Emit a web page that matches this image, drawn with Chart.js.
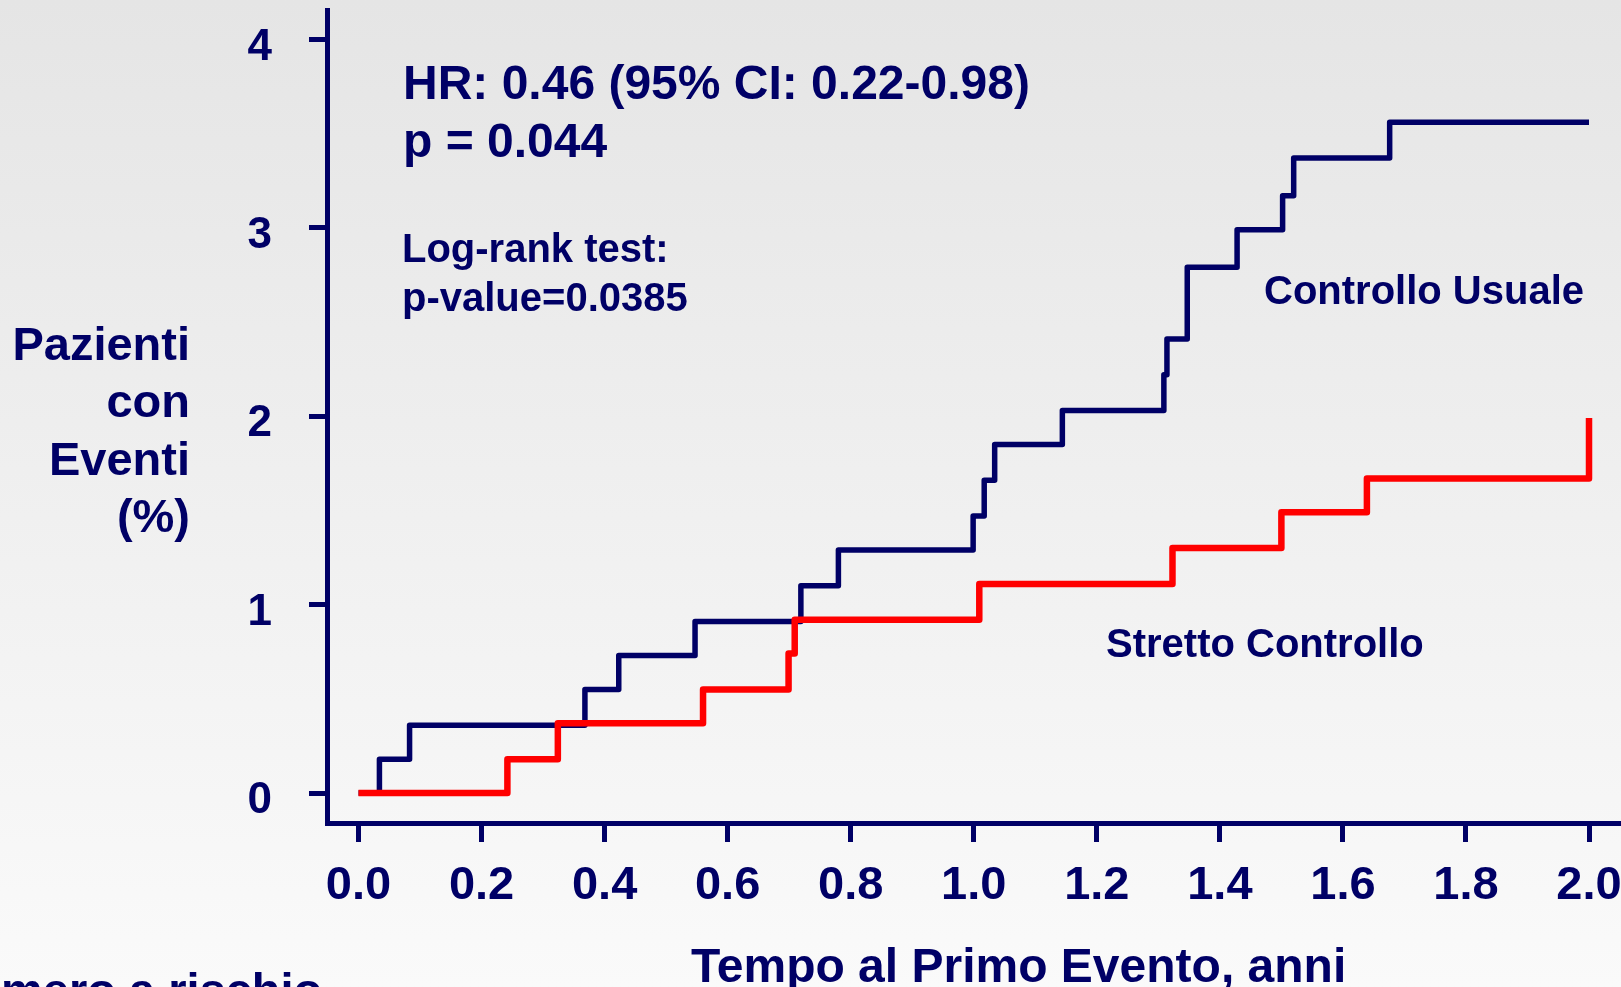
<!DOCTYPE html>
<html>
<head>
<meta charset="utf-8">
<script src="https://cdn.jsdelivr.net/npm/chart.js@4.4.1/dist/chart.umd.min.js"></script>
<style>
  html, body { margin: 0; padding: 0; overflow: hidden; }
  body { width: 1621px; height: 987px; background: linear-gradient(to bottom, #e5e5e5 0%, #fafafa 100%); }
  #wrap { position: relative; width: 1621px; height: 987px; }
</style>
</head>
<body>
<div id="wrap"><canvas id="km"></canvas></div>
<script>
// Cumulative incidence of first event (%) over time (years)
const usualTimes = [0, 0.034, 0.083, 0.368, 0.423, 0.547, 0.719, 0.780, 0.999, 1.017, 1.034, 1.144, 1.309, 1.314, 1.347, 1.428, 1.502, 1.520, 1.676, 2.0];
const usualPct   = [0, 0.18, 0.36, 0.55, 0.73, 0.91, 1.10, 1.29, 1.47, 1.66, 1.85, 2.03, 2.22, 2.41, 2.79, 2.99, 3.17, 3.37, 3.56, 3.56];

const strictTimes = [0, 0.242, 0.324, 0.560, 0.699, 0.709, 1.009, 1.323, 1.500, 1.639, 2.0, 2.0];
const strictPct   = [0, 0.18, 0.37, 0.55, 0.74, 0.92, 1.11, 1.30, 1.49, 1.67, 1.67, 1.99];

const xTickValues = [0, 0.2, 0.4, 0.6, 0.8, 1.0, 1.2, 1.4, 1.6, 1.8, 2.0];
const xTickLabels = ['0.0', '0.2', '0.4', '0.6', '0.8', '1.0', '1.2', '1.4', '1.6', '1.8', '2.0'];
const yTickValues = [0, 1, 2, 3, 4];
const yTickLabels = ['0', '1', '2', '3', '4'];

const NAVY = '#000066';
const RED = '#ff0000';
const FONT = '"Liberation Sans", Arial, Helvetica, sans-serif';

const toPoints = (xs, ys) => xs.map((x, i) => ({ x: x, y: ys[i] }));

// Free-standing texts: statistics, curve names, axis titles
const textPlugin = {
  id: 'kmTexts',
  afterDraw(chart) {
    const ctx = chart.ctx;
    ctx.save();
    ctx.fillStyle = NAVY;
    ctx.textBaseline = 'alphabetic';
    ctx.textAlign = 'left';

    ctx.font = 'bold 48px ' + FONT;
    ctx.fillText('HR: 0.46 (95% CI: 0.22-0.98)', 403, 99);
    ctx.fillText('p = 0.044', 403, 157);

    ctx.font = 'bold 40px ' + FONT;
    ctx.fillText('Log-rank test:', 402, 262);
    ctx.fillText('p-value=0.0385', 402, 311);
    ctx.fillText('Controllo Usuale', 1264, 304);
    ctx.fillText('Stretto Controllo', 1106, 657);

    // y-axis title, right aligned
    ctx.font = 'bold 47px ' + FONT;
    ctx.textAlign = 'right';
    const yTitle = ['Pazienti', 'con', 'Eventi', '(%)'];
    const yBase = [360, 417, 475, 532];
    yTitle.forEach((t, i) => ctx.fillText(t, 190, yBase[i]));

    // x-axis title
    ctx.font = 'bold 48px ' + FONT;
    ctx.textAlign = 'left';
    ctx.fillText('Tempo al Primo Evento, anni', 691, 982);

    // number-at-risk heading below the plot
    ctx.font = 'bold 47px ' + FONT;
    const lead = ctx.measureText('Nu').width;
    ctx.fillText('Numero a rischio', -lead + 1, 1006);
    ctx.restore();
  }
};

new Chart(document.getElementById('km'), {
  type: 'line',
  data: {
    datasets: [
      {
        label: 'Stretto Controllo',
        data: toPoints(strictTimes, strictPct),
        borderColor: RED,
        borderWidth: 6.5,
        stepped: 'before',
        pointRadius: 0,
        fill: false,
        borderJoinStyle: 'round',
        order: 0
      },
      {
        label: 'Controllo Usuale',
        data: toPoints(usualTimes, usualPct),
        borderColor: NAVY,
        borderWidth: 5.5,
        stepped: 'before',
        pointRadius: 0,
        fill: false,
        borderJoinStyle: 'round',
        order: 1
      }
    ]
  },
  options: {
    responsive: true,
    maintainAspectRatio: false,
    devicePixelRatio: 1,
    animation: false,
    events: [],
    layout: { padding: { top: 10, left: 0, right: 0, bottom: 0 } },
    plugins: {
      legend: { display: false },
      tooltip: { enabled: false },
      title: { display: false }
    },
    scales: {
      x: {
        type: 'linear',
        min: -0.0512,
        max: 2.052,
        afterBuildTicks: s => { s.ticks = xTickValues.map(v => ({ value: v })); },
        afterFit: s => { s.height = 164; s.paddingLeft = 0; s.paddingRight = 0; },
        border: { display: true, color: NAVY, width: 5 },
        grid: { display: true, drawOnChartArea: false, drawTicks: true, tickLength: 19, color: NAVY, lineWidth: 5 },
        ticks: {
          color: NAVY,
          font: { family: FONT, size: 47, weight: 'bold' },
          padding: 16,
          autoSkip: false,
          maxRotation: 0,
          minRotation: 0,
          callback: (v, i) => xTickLabels[i]
        }
      },
      y: {
        type: 'linear',
        min: -0.159,
        max: 4.156,
        afterBuildTicks: s => { s.ticks = yTickValues.map(v => ({ value: v })); },
        afterFit: s => { s.width = 327; s.paddingTop = 0; s.paddingBottom = 0; },
        border: { display: true, color: NAVY, width: 5 },
        grid: { display: true, drawOnChartArea: false, drawTicks: true, tickLength: 18, color: NAVY, lineWidth: 5 },
        ticks: {
          color: NAVY,
          font: { family: FONT, size: 44, weight: 'bold' },
          padding: 37,
          labelOffset: 8,
          autoSkip: false,
          callback: (v, i) => yTickLabels[i]
        }
      }
    }
  },
  plugins: [textPlugin]
});
</script>
</body>
</html>
